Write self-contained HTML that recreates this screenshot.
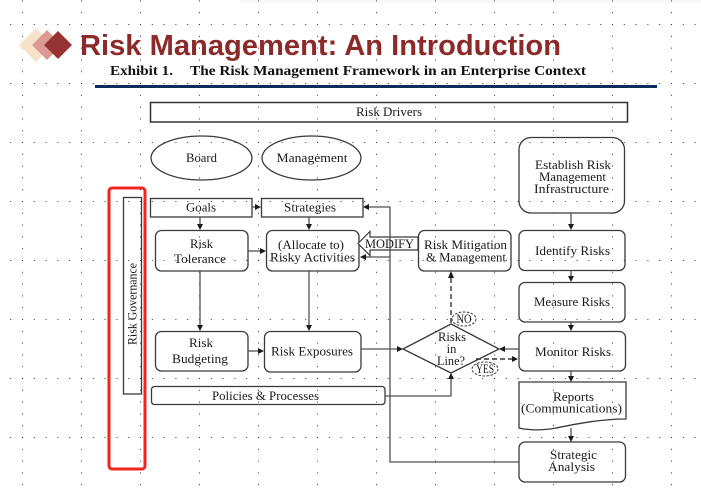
<!DOCTYPE html>
<html><head><meta charset="utf-8"><style>
html,body{margin:0;padding:0;background:#fff;}
svg{display:block;}
.s{font-family:"Liberation Serif",serif;font-size:12.5px;fill:#1a1a1a;}
.b{fill:none;stroke:#3a3a3a;stroke-width:1.3;}
.l{fill:none;stroke:#505050;stroke-width:1.3;}
.h{fill:#1a1a1a;}
</style></head><body>
<svg width="701" height="493" viewBox="0 0 701 493" xmlns="http://www.w3.org/2000/svg">
<defs>
<pattern id="g" x="22" y="24" width="59" height="59" patternUnits="userSpaceOnUse">
<rect x="0" y="0" width="1" height="1" fill="#333"/>
<rect x="11.8" y="0" width="1" height="1" fill="#333"/>
<rect x="23.6" y="0" width="1" height="1" fill="#333"/>
<rect x="35.4" y="0" width="1" height="1" fill="#333"/>
<rect x="47.2" y="0" width="1" height="1" fill="#333"/>
<rect x="0" y="11.8" width="1" height="1" fill="#333"/>
<rect x="0" y="23.6" width="1" height="1" fill="#333"/>
<rect x="0" y="35.4" width="1" height="1" fill="#333"/>
<rect x="0" y="47.2" width="1" height="1" fill="#333"/>
</pattern>
</defs>
<rect width="701" height="493" fill="#fff"/>
<rect x="240" y="0" width="461" height="3" fill="#f8f8f8"/>
<rect width="701" height="493" fill="url(#g)"/>

<!-- logo diamonds -->
<polygon points="36,28 53,45 36,62 19,45" fill="#F6E3C9"/>
<polygon points="47,30 62,45 47,60 32,45" fill="#DB9A94"/>
<polygon points="58,31 72,45 58,59 44,45" fill="#953432"/>

<text x="80" y="55" font-family="Liberation Sans, sans-serif" font-weight="bold" font-size="29" fill="#8C2A2A" textLength="481" lengthAdjust="spacingAndGlyphs">Risk Management: An Introduction</text>
<text x="110" y="75" font-family="Liberation Serif, serif" font-weight="bold" font-size="13.5" fill="#111" textLength="63" lengthAdjust="spacingAndGlyphs">Exhibit 1.</text>
<text x="190" y="75" font-family="Liberation Serif, serif" font-weight="bold" font-size="13.5" fill="#111" textLength="396" lengthAdjust="spacingAndGlyphs">The Risk Management Framework in an Enterprise Context</text>
<rect x="95" y="85" width="562" height="3" fill="#0F2B5B"/>

<!-- Risk Drivers -->
<rect x="150.5" y="102.5" width="477" height="19.5" fill="none" stroke="#333" stroke-width="1.5"/>
<text class="s" x="389" y="116" text-anchor="middle" textLength="66" lengthAdjust="spacingAndGlyphs">Risk Drivers</text>

<!-- ellipses -->
<ellipse class="b" cx="201.5" cy="158" rx="50.5" ry="22"/>
<text class="s" x="201.5" y="162" text-anchor="middle" textLength="31" lengthAdjust="spacingAndGlyphs">Board</text>
<ellipse class="b" cx="311.5" cy="158" rx="49.5" ry="22"/>
<text class="s" x="312" y="162" text-anchor="middle" textLength="71" lengthAdjust="spacingAndGlyphs">Management</text>

<!-- Goals / Strategies -->
<rect class="b" x="150.5" y="198.5" width="101.5" height="18.5"/>
<text class="s" x="201" y="211.5" text-anchor="middle" textLength="30" lengthAdjust="spacingAndGlyphs">Goals</text>
<rect class="b" x="261.5" y="198.5" width="101.5" height="18.5"/>
<text class="s" x="310" y="211.5" text-anchor="middle" textLength="52" lengthAdjust="spacingAndGlyphs">Strategies</text>

<!-- Risk Tolerance -->
<rect class="b" x="155.5" y="230.5" width="92.5" height="40.5" rx="6"/>
<text class="s" x="201.5" y="248" text-anchor="middle" textLength="23" lengthAdjust="spacingAndGlyphs">Risk</text>
<text class="s" x="200" y="263" text-anchor="middle" textLength="52" lengthAdjust="spacingAndGlyphs">Tolerance</text>

<!-- Allocate -->
<rect class="b" x="266.5" y="230.5" width="92.5" height="40.5" rx="6"/>
<text class="s" x="311" y="249" text-anchor="middle" textLength="66" lengthAdjust="spacingAndGlyphs">(Allocate to)</text>
<text class="s" x="312.5" y="261.5" text-anchor="middle" textLength="85" lengthAdjust="spacingAndGlyphs">Risky Activities</text>

<!-- Risk Mitigation -->
<rect class="b" x="418.5" y="230.5" width="92.5" height="40.5" rx="6"/>
<text class="s" x="465.5" y="249" text-anchor="middle" textLength="83" lengthAdjust="spacingAndGlyphs">Risk Mitigation</text>
<text class="s" x="466" y="261.5" text-anchor="middle" textLength="80" lengthAdjust="spacingAndGlyphs">&amp; Management</text>

<!-- MODIFY block arrow -->
<polygon points="418,237 370,237 370,231.5 358,243.5 370,255.5 370,250 418,250" fill="#fff" stroke="#3a3a3a" stroke-width="1.2"/>
<text class="s" x="389.5" y="248" text-anchor="middle" textLength="49" lengthAdjust="spacingAndGlyphs">MODIFY</text>

<!-- Right column -->
<rect class="b" x="519" y="137.5" width="105.5" height="75.5" rx="12"/>
<text class="s" x="573" y="169" text-anchor="middle" textLength="76" lengthAdjust="spacingAndGlyphs">Establish Risk</text>
<text class="s" x="572.5" y="181" text-anchor="middle" textLength="67" lengthAdjust="spacingAndGlyphs">Management</text>
<text class="s" x="571.5" y="193" text-anchor="middle" textLength="75" lengthAdjust="spacingAndGlyphs">Infrastructure</text>

<rect class="b" x="519" y="230.5" width="106" height="40" rx="6"/>
<text class="s" x="572.5" y="255" text-anchor="middle" textLength="75" lengthAdjust="spacingAndGlyphs">Identify Risks</text>

<rect class="b" x="519" y="282.5" width="106" height="39.5" rx="6"/>
<text class="s" x="572" y="306" text-anchor="middle" textLength="76" lengthAdjust="spacingAndGlyphs">Measure Risks</text>

<rect class="b" x="519" y="331.5" width="106.5" height="39.5" rx="6"/>
<text class="s" x="573" y="356" text-anchor="middle" textLength="76" lengthAdjust="spacingAndGlyphs">Monitor Risks</text>

<path class="b" d="M519,382 H626 V419 C600,419 576,424 556,428 C540,431 528,430 519,428 Z"/>
<text class="s" x="573.5" y="401" text-anchor="middle" textLength="41" lengthAdjust="spacingAndGlyphs">Reports</text>
<text class="s" x="571.5" y="412.5" text-anchor="middle" textLength="101" lengthAdjust="spacingAndGlyphs">(Communications)</text>

<rect class="b" x="519" y="442" width="106.5" height="40" rx="6"/>
<text class="s" x="573.5" y="459" text-anchor="middle" textLength="47" lengthAdjust="spacingAndGlyphs">Strategic</text>
<text class="s" x="571.5" y="471" text-anchor="middle" textLength="47" lengthAdjust="spacingAndGlyphs">Analysis</text>

<!-- Risk Budgeting / Exposures -->
<rect class="b" x="155.5" y="331.5" width="92.5" height="39.5" rx="6"/>
<text class="s" x="201" y="347" text-anchor="middle" textLength="24" lengthAdjust="spacingAndGlyphs">Risk</text>
<text class="s" x="200" y="363" text-anchor="middle" textLength="56" lengthAdjust="spacingAndGlyphs">Budgeting</text>
<rect class="b" x="264.5" y="331.5" width="96.5" height="40.5" rx="6"/>
<text class="s" x="312" y="355.5" text-anchor="middle" textLength="82" lengthAdjust="spacingAndGlyphs">Risk Exposures</text>

<!-- Policies -->
<rect class="b" x="151.5" y="386.5" width="233.5" height="18" rx="3"/>
<text class="s" x="265.5" y="400" text-anchor="middle" textLength="107" lengthAdjust="spacingAndGlyphs">Policies &amp; Processes</text>

<!-- Risk Governance -->
<rect class="b" x="123.5" y="197.5" width="18" height="196.5"/>
<text class="s" transform="translate(136.5,304) rotate(-90)" x="0" y="0" text-anchor="middle" textLength="82" lengthAdjust="spacingAndGlyphs">Risk Governance</text>

<!-- Diamond -->
<polygon class="b" points="451,324 499,349 451,373 403,349"/>
<text class="s" x="452" y="341" text-anchor="middle" textLength="28" lengthAdjust="spacingAndGlyphs">Risks</text>
<text class="s" x="451.5" y="353" text-anchor="middle">in</text>
<text class="s" x="451" y="365" text-anchor="middle" textLength="28" lengthAdjust="spacingAndGlyphs">Line?</text>

<ellipse cx="464" cy="319" rx="12" ry="7" fill="none" stroke="#3a3a3a" stroke-width="1" stroke-dasharray="2.5,1.5"/>
<text class="s" x="464" y="323" text-anchor="middle" font-size="11.5" textLength="15" lengthAdjust="spacingAndGlyphs">NO</text>
<ellipse cx="485" cy="369" rx="13" ry="7" fill="none" stroke="#3a3a3a" stroke-width="1" stroke-dasharray="2.5,1.5"/>
<text class="s" x="485" y="373" text-anchor="middle" font-size="11.5" textLength="18" lengthAdjust="spacingAndGlyphs">YES</text>

<!-- connectors -->
<line class="l" x1="252" y1="207" x2="256" y2="207"/><polygon class="h" points="261,207 255,204 255,210"/>
<line class="l" x1="200" y1="217" x2="200" y2="225"/><polygon class="h" points="200,230 197,224 203,224"/>
<line class="l" x1="309" y1="217" x2="309" y2="225"/><polygon class="h" points="309,230 306,224 312,224"/>
<line class="l" x1="248" y1="251" x2="261" y2="251"/><polygon class="h" points="266,251 260,248 260,254"/>
<line class="l" x1="200" y1="271" x2="200" y2="326"/><polygon class="h" points="200,331 197,325 203,325"/>
<line class="l" x1="309" y1="271" x2="309" y2="326"/><polygon class="h" points="309,331 306,325 312,325"/>
<line class="l" x1="248" y1="351" x2="259" y2="351"/><polygon class="h" points="264,351 258,348 258,354"/>
<line class="l" x1="361" y1="349" x2="398" y2="349"/><polygon class="h" points="403,349 397,346 397,352"/>
<path class="l" d="M385,396 H451 V378"/><polygon class="h" points="451,373 448,379 454,379"/>
<path class="l" d="M519,462 H390 V207 H368"/><polygon class="h" points="363,207 369,204 369,210"/>
<line class="l" x1="390" y1="257" x2="365" y2="257"/><polygon class="h" points="360,257 366,254 366,260"/>
<line x1="451" y1="323" x2="451" y2="277" stroke="#333" stroke-width="1.4" stroke-dasharray="5,3"/><polygon class="h" points="451,271 448,278 454,278"/>
<line class="l" x1="519" y1="349" x2="504" y2="349"/><polygon class="h" points="499,349 505,346 505,352"/>
<line x1="476" y1="359" x2="513" y2="359" stroke="#333" stroke-width="1.4" stroke-dasharray="5,3"/><polygon class="h" points="518,359 512,356 512,362"/>
<line class="l" x1="571" y1="213" x2="571" y2="225"/><polygon class="h" points="571,230 568,224 574,224"/>
<line class="l" x1="571" y1="270" x2="571" y2="277"/><polygon class="h" points="571,282 568,276 574,276"/>
<line class="l" x1="571" y1="322" x2="571" y2="326"/><polygon class="h" points="571,331 568,325 574,325"/>
<line class="l" x1="571" y1="371" x2="571" y2="377"/><polygon class="h" points="571,382 568,376 574,376"/>
<line class="l" x1="571" y1="428" x2="571" y2="437"/><polygon class="h" points="571,442 568,436 574,436"/>

<!-- red highlight -->
<rect x="109" y="188" width="36" height="281" rx="3" fill="none" stroke="#F2241C" stroke-width="3"/>
</svg>
</body></html>
